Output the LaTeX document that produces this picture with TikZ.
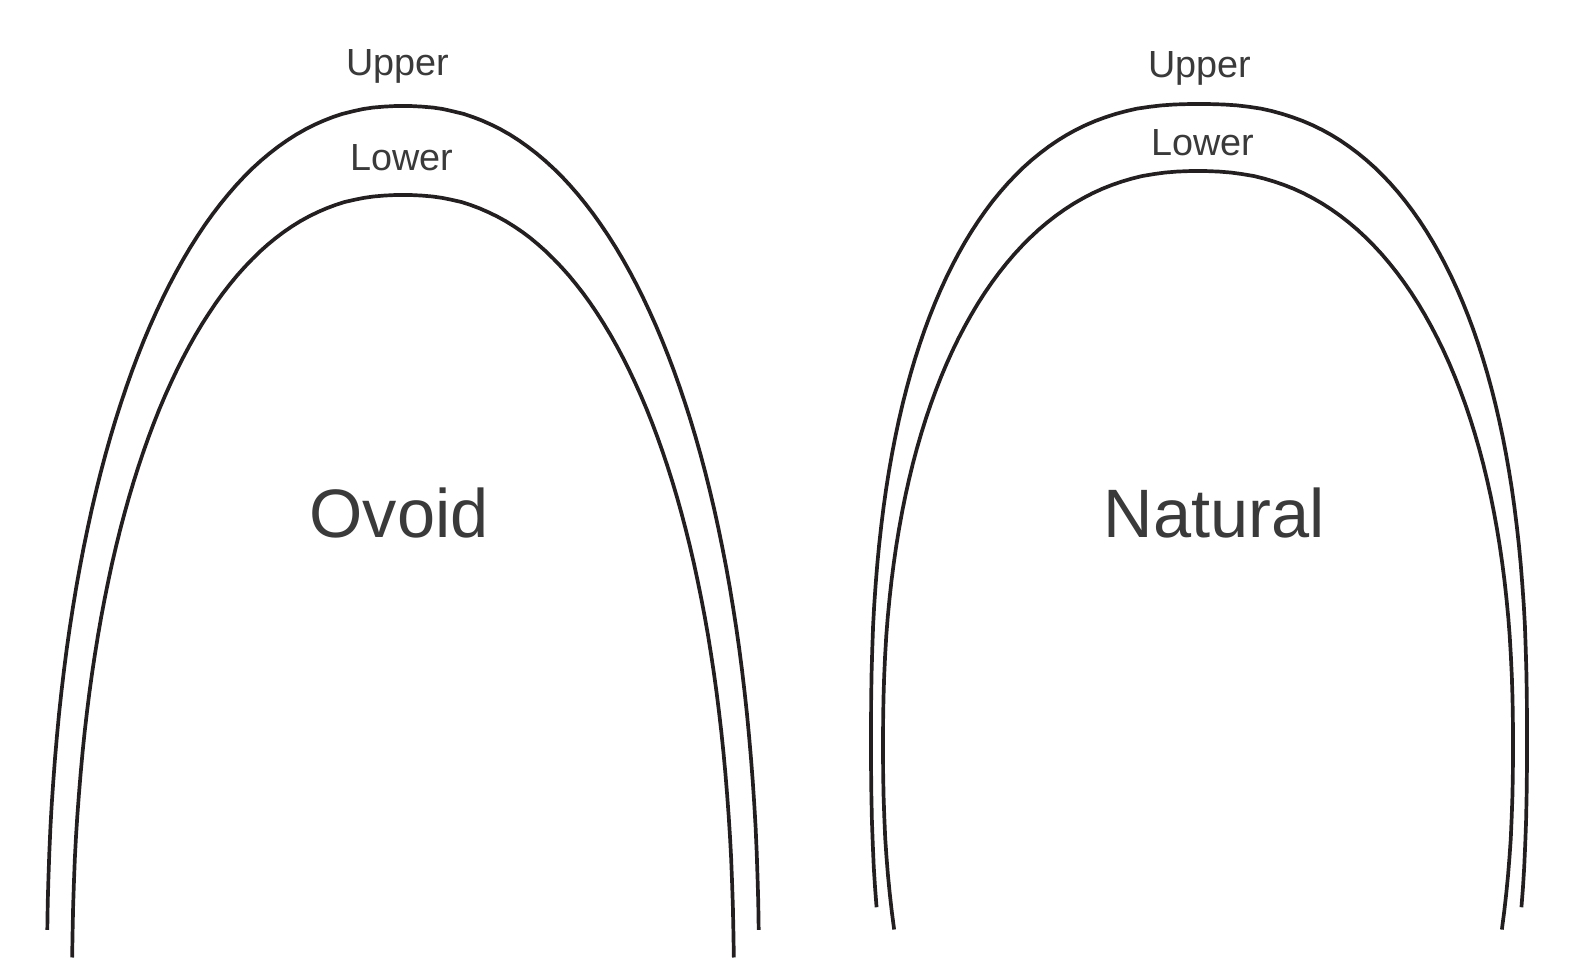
\documentclass[tikz,border=0pt]{standalone}
\usepackage{fontspec}
\setmainfont{Liberation Sans}
\usepackage{tikz}
\definecolor{wirecol}{HTML}{231F20}
\definecolor{textcol}{HTML}{3A3A3A}

\begin{document}
\begin{tikzpicture}[x=0.02cm,y=-0.02cm,
  declare function={archx(\t,\a,\n)=\a*sign(cos(\t))*pow(abs(cos(\t)),2/\n);
    archy(\t,\b,\n)=\b*sign(sin(\t))*pow(abs(sin(\t)),2/\n);},
  wire/.style={line width=2.1pt,color=wirecol,samples=120,variable=\t},
  archlabel/.style={text=textcol,anchor=base,inner sep=0pt,font=\fontsize{21.5}{24}\selectfont},
  formname/.style={text=textcol,anchor=base,inner sep=0pt,font=\fontsize{39}{44}\selectfont}]
\useasboundingbox (0,0) rectangle (1580,974);
\draw[wire,domain=2.46:177.54] plot ({403+archx(\t,356,2.2)},{980-archy(\t,874,2.2)});
\draw[wire,domain=2.07:177.93] plot ({403+archx(\t,331,2.25)},{1000-archy(\t,805,2.25)});
\draw[wire,domain=-11.6:191.6] plot ({1199+archx(\t,328,2.4)},{740-archy(\t,636,2.4)});
\draw[wire,domain=-16.2:196.2] plot ({1198+archx(\t,315,2.25)},{745-archy(\t,574,2.25)});
\node[archlabel] (ovoidupper) at (398,75) {Upper};
\node[archlabel] (ovoidlower) at (402,170) {Lower};
\node[formname] (ovoid) at (399,537) {Ovoid};
\node[archlabel] (naturalupper) at (1200,77) {Upper};
\node[archlabel] (naturallower) at (1203,155) {Lower};
\node[formname] (natural) at (1214,537) {Natural};
\end{tikzpicture}
\end{document}
